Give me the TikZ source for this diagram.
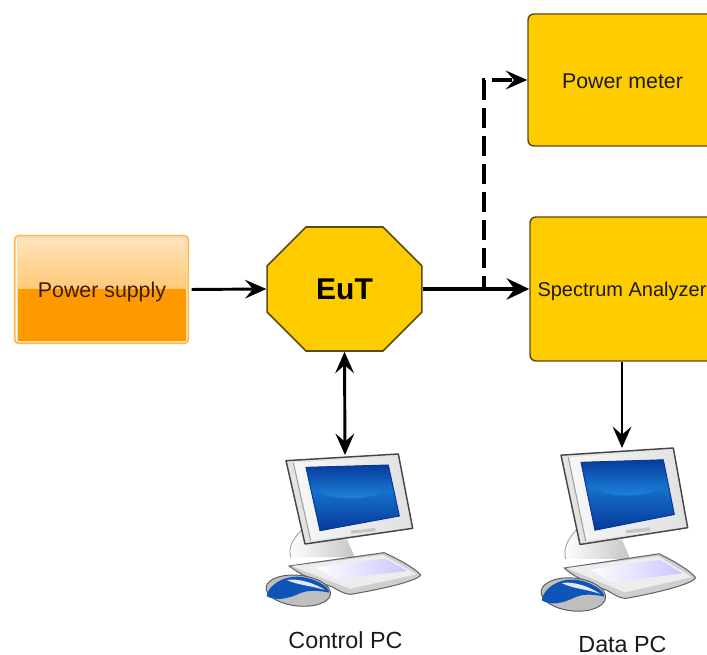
\documentclass[tikz,border=0pt]{standalone}
\usepackage{fontspec}
\setmainfont{Liberation Sans}
\usetikzlibrary{arrows.meta,shapes.misc}
\definecolor{boxyellow}{HTML}{FFCC00}
\definecolor{boxedge}{HTML}{5A4A14}
\definecolor{inktext}{HTML}{1A1A1A}
\definecolor{psedge}{HTML}{FFB850}
\definecolor{pslow}{HTML}{FF9900}
\definecolor{pstop}{HTML}{FFE3BC}
\definecolor{psmid}{HTML}{FFC877}
\definecolor{pstext}{HTML}{3E1C04}
\definecolor{screenblue}{HTML}{0F55B8}
\definecolor{screendark}{HTML}{06389A}
\definecolor{screenlight}{HTML}{1C86DE}
\definecolor{screenmid}{HTML}{1672CC}
\tikzset{
  unit box/.style={draw=boxedge,line width=1.1pt,fill=boxyellow,rounded corners=4.5pt,
    inner sep=0pt,text=inktext,font=\fontsize{16}{18}\selectfont},
  thin link/.style={line width=2.2pt,black,-{Stealth[length=16pt,width=14pt,inset=6pt]}},
  thick link/.style={line width=3.4pt,black,-{Stealth[length=17pt,width=16pt,inset=6pt]}},
  dash link/.style={line width=2.4pt,black,dash pattern=on 15pt off 6pt,dash phase=5pt,
    -{Stealth[length=16pt,width=14pt,inset=6pt]}},
  double link/.style={line width=2.2pt,black,{Stealth[length=16pt,width=14pt,inset=6pt]}-{Stealth[length=16pt,width=14pt,inset=6pt]}},
  caption/.style={inner sep=0pt,text=inktext,font=\fontsize{17.5}{20}\selectfont},
}
\newcommand{\pcicon}{%
  % stand
  \shade[left color=white,right color=gray!45] (125,270) .. controls (95,300) and (85,325) .. (92,352)
     -- (285,352) -- (262,300) -- cycle;
  \draw[gray!70,line width=.7pt] (125,270) .. controls (95,300) and (85,325) .. (92,352);
  % keyboard
  \fill[gray!38] (88,378) -- (372,338) .. controls (420,360) and (465,385) .. (482,405)
     .. controls (470,425) and (350,450) .. (272,463) .. controls (250,462) and (235,450) .. (215,440)
     .. controls (170,425) and (120,405) .. cycle;
  \draw[gray!80!black,line width=.8pt] (88,378) -- (372,338) .. controls (420,360) and (465,385) .. (482,405)
     .. controls (470,425) and (350,450) .. (272,463) .. controls (250,462) and (235,450) .. (215,440)
     .. controls (170,425) and (120,405) .. cycle;
  \fill[gray!14] (95,378) -- (370,345) -- (470,403) -- (270,446) -- cycle;
  \shade[left color=white,right color=blue!22] (165,382) -- (375,355) -- (442,393) -- (232,418) -- cycle;
  % mouse
  \fill[gray!50,rotate around={-6:(115,452)}] (115,452) ellipse [x radius=97,y radius=46];
  \draw[gray!70!black,line width=.7pt,rotate around={-6:(115,452)}] (115,452) ellipse [x radius=97,y radius=46];
  \fill[screenblue] (20,468) .. controls (25,435) and (70,408) .. (115,410)
     .. controls (165,413) and (208,440) .. (208,458) .. controls (170,450) and (140,450) .. (115,462)
     .. controls (85,476) and (45,484) .. (20,468) -- cycle;
  \fill[blue!10] (80,420) .. controls (115,414) and (165,430) .. (195,450)
     .. controls (150,436) and (115,436) .. (80,420) -- cycle;
  % monitor body
  \fill[gray!22] (78,62) -- (415,42) -- (458,265) -- (135,312) -- cycle;
  \shade[left color=gray!6,right color=gray!24] (100,68) -- (415,48) -- (453,262) -- (152,302) -- cycle;
  \draw[gray!55!black,line width=1.1pt,line join=round] (78,62) -- (415,42) -- (458,265) -- (135,312) -- cycle;
  \draw[gray!75,line width=.8pt] (100,68) -- (152,302);
  % screen
  \fill[screendark] (138,82) -- (385,75) -- (418,228) -- (180,272) -- cycle;
  \begin{scope}
    \clip (138,82) -- (385,75) -- (418,228) -- (180,272) -- cycle;
    \shade[top color=screendark,bottom color=screenlight] (130,70) rectangle (430,180);
    \fill[screenlight] (130,180) rectangle (430,280);
    \begin{scope}
      \clip (130,130) .. controls (200,190) and (340,190) .. (430,130) -- (430,280) -- (130,280) -- cycle;
      \shade[top color=screenmid,bottom color=screendark] (130,150) rectangle (430,275);
    \end{scope}
  \end{scope}
  \draw[screendark,line width=.7pt] (138,82) -- (385,75) -- (418,228) -- (180,272) -- cycle;
  \fill[gray!45] (272,272) -- (345,264) -- (346,274) -- (274,281) -- cycle;
}
\begin{document}
\begin{tikzpicture}[x=.75pt,y=-.75pt]
\useasboundingbox (0,0) rectangle (707,655);
% power supply
\node[draw=psedge,line width=1.3pt,fill=white,rounded corners=2.5pt,inner sep=0pt,
      minimum width=130pt,minimum height=80.5pt] (ps) at (101.5,289.5) {};
\shade[top color=pstop,bottom color=psmid] ([shift={(2.2pt,-2.2pt)}]ps.north west) rectangle ([xshift=-2.2pt]ps.east);
\fill[pslow] ([shift={(2.2pt,2.2pt)}]ps.south west) rectangle ([xshift=-2.2pt]ps.east);
\draw[white!50!psedge,line width=.6pt] ([shift={(2.2pt,2.2pt)}]ps.south west) rectangle ([shift={(-2.2pt,-2.2pt)}]ps.north east);
\node[inner sep=0pt,text=pstext,font=\fontsize{16}{18}\selectfont] (pslabel) at (102,291.5) {Power supply};
% EuT
\node[chamfered rectangle,chamfered rectangle xsep=33.75pt,chamfered rectangle ysep=26.25pt,
      draw=boxedge,line width=1.2pt,fill=boxyellow,inner sep=0pt,minimum width=116pt,minimum height=93pt,
      text=black,font=\fontsize{22.5}{24}\selectfont\bfseries] (eut) at (344.5,289) {\raisebox{-.8pt}{EuT}};
% instruments
\node[unit box,minimum width=141pt,minimum height=99pt] (pm) at (622,80) {};
\node[inner sep=0pt,text=inktext,font=\fontsize{16}{18}\selectfont] (pmlabel) at (622.5,81.5) {Power meter};
\node[unit box,minimum width=138pt,minimum height=108pt] (sa) at (622,289) {};
\node[inner sep=0pt,text=inktext,font=\fontsize{15}{18}\selectfont] (salabel) at (622,291.5) {Spectrum Analyzer};
% computers
\begin{scope}[shift={(260,440)},x=.25pt,y=-.25pt]\pcicon\end{scope}
\begin{scope}[shift={(535,433)},x=.25pt,y=-.268pt]\pcicon\end{scope}
\coordinate (pcone) at (345,455);
\coordinate (pctwo) at (622,448);
\node[caption] (ctl) at (345.5,640) {Control PC};
\node[caption] (dat) at (622.5,644) {Data PC};
% connectors
\coordinate (split) at (484,289);
\draw[dash link] (split) |- (pm.west);
\draw[thin link,shorten <=2pt] (ps.east) -- (eut.west);
\draw[thick link] (eut.east) -- (sa.west);
\draw[double link] (eut.south) -- (pcone);
\draw[thin link] (sa.south) -- (pctwo);
\end{tikzpicture}
\end{document}
